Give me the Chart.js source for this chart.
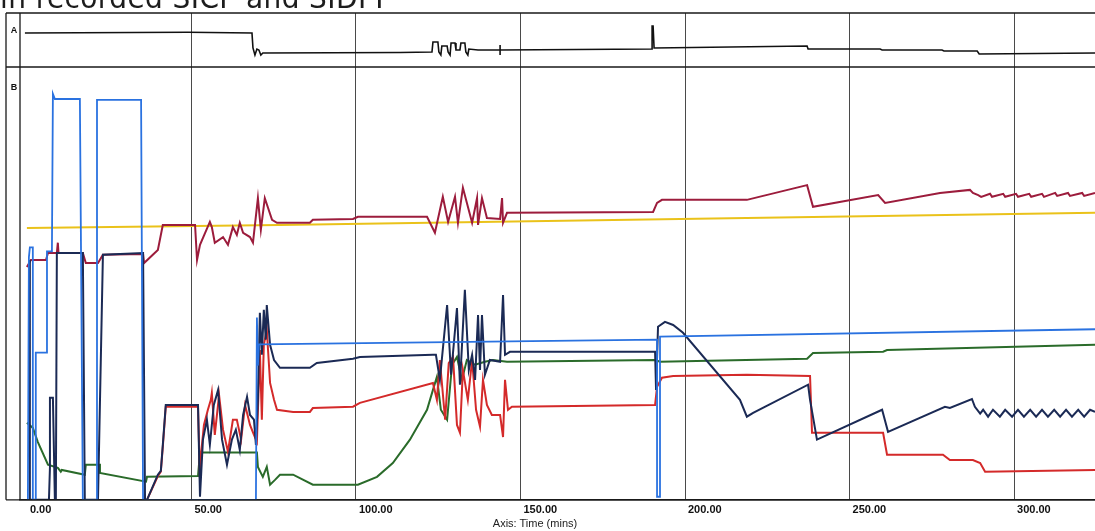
<!DOCTYPE html>
<html>
<head>
<meta charset="utf-8">
<script src="https://cdn.jsdelivr.net/npm/chart.js@4.4.1/dist/chart.umd.min.js"></script>
<style>
  html, body { margin: 0; padding: 0; background: #fff; }
  #wrap { position: relative; width: 1095px; height: 531px; overflow: hidden; }
  #caption { position: absolute; left: 0; top: -15px; font: 28px/28px "DejaVu Sans", sans-serif; letter-spacing: 0.4px; color: #1c1c1c; white-space: nowrap; }
  #axisTitle { position: absolute; left: 0; width: 1070px; top: 517px; text-align: center; font: 11px "Liberation Sans", Arial, sans-serif; color: #222; }
  canvas { position: absolute; left: 0; top: 0; }
</style>
</head>
<body>
<div id="wrap">
  <canvas id="grafico" width="1095" height="531"></canvas>
  <div id="caption">in recorded SICP and SIDPP</div>
  <div id="axisTitle">Axis: Time (mins)</div>
</div>
<script>
// eje X en minutos
const timeTicks = [0, 50, 100, 150, 200, 250, 300];

// panel A: traza negra (unidades relativas 0-100)
const traceA = [[-0.6,63],[48.9,64.3],[68.4,63],[68.7,35.2],[69.3,22.2],[69.9,33.3],[70.5,31.5],[71.1,22.2],[71.7,25.9],
  [113.4,26.9],[123.1,27.8],[123.4,46.3],[124.9,46.3],[125.2,27.8],[125.8,22.2],[126.1,38.9],[127.7,38.9],[128,27.8],
  [128.6,22.2],[128.9,44.4],[130.1,44.4],[130.4,31.5],[131.6,31.5],[131.9,44.4],[133.1,44.4],[133.4,27.8],[134,22.2],
  [134.3,33.3],[137.1,31.5],[143.8,31.5],[143.8,40.7],[143.8,22.2],[143.8,31.5],[190,33.3],[190,75.9],[190.3,75.9],
  [190.6,35.2],[237.1,38.9],[237.4,33.3],[259.3,33.3],[259.9,31.5],[278.1,31.5],[278.7,29.6],[288.8,29.6],[289.4,24.1],
  [324.6,25.9]];

// panel B (unidades relativas 0-100)
const traceYellow = [[0,62.8],[76.9,63.5],[198.5,64.9],[324.6,66.3]];

const traceMaroon = [[0,53.8],[0.9,55.0],[1.2,55.4],[5.8,55.4],[6.4,57.0],[9.1,57.0],[9.4,59.4],[9.6,57.0],[17.0,57.0],
  [17.9,54.7],[21.6,54.7],[23.1,56.6],[35.3,56.8],[35.6,54.7],[39.8,57.7],[41.3,63.5],[51.1,63.5],[51.7,55.4],[52.6,58.9],
  [55.6,64.2],[56.2,63.0],[57.1,59.4],[59.6,60.7],[61.1,58.9],[62.6,63.0],[63.8,61.2],[64.7,64.0],[65.7,61.7],[67.8,60.7],
  [68.7,59.4],[70.2,69.7],[71.1,62.4],[72.3,69.7],[74.5,64.7],[76.0,64.0],[86.0,64.0],[86.9,64.7],[99.1,64.9],[100.6,65.4],
  [121.6,65.4],[124.0,61.7],[126.4,70.0],[128.0,64.2],[130.1,70.0],[131.0,64.0],[132.5,72.1],[135.3,64.0],[136.8,69.7],
  [137.1,63.5],[138.3,69.7],[139.8,65.1],[143.8,64.9],[144.4,69.7],[144.7,64.0],[145.9,66.3],[190.3,66.5],[191.5,68.6],
  [193.0,69.3],[218.8,69.3],[237.1,72.7],[238.9,67.7],[258.7,70.4],[260.8,68.6],[277.5,70.9],[286.6,71.6],[287.5,70.9],
  [289.1,70.4],[290.0,70.0],[292.7,70.7],[293.3,70.0],[296.7,70.7],[297.3,70.0],[300.6,70.7],[301.2,70.0],[304.6,70.7],
  [305.2,70.0],[308.5,70.7],[309.1,70.0],[312.5,70.9],[313.1,70.2],[316.4,70.9],[317.0,70.2],[320.7,70.9],[321.3,70.2],
  [324.6,70.9]];

const traceBlue = [[0.3,0],[0.6,56.0],[0.9,58.3],[1.8,58.3],[1.8,0],[2.7,0],[2.7,34.0],[6.1,34.0],[6.1,57.4],[7.6,57.4],
  [7.9,93.8],[8.5,92.6],[16.1,92.6],[17.0,0],[21.0,0],[21.3,92.4],[34.7,92.4],[35.3,0],[69.6,0],[69.9,42.1],[70.2,31.0],
  [70.5,35.9],[191.5,37.0],[191.5,0.7],[192.1,0.7],[192.4,37.7],[324.6,39.4]];

const traceNavy = [[0.9,55.4],[0.9,0],[6.7,0],[7.0,7.4],[7.0,23.6],[7.9,23.6],[8.5,0],[8.8,0],[9.1,57.0],[17.0,57.0],
  [17.6,0],[21.6,0],[23.1,56.6],[35.3,57.0],[35.9,0],[36.5,0],[39.8,5.8],[40.7,6.7],[41.3,12.7],[42.2,21.9],[52.0,21.9],
  [52.6,0.7],[53.5,13.9],[54.7,18.5],[55.6,12.7],[56.8,21.9],[58.1,25.4],[59.3,13.9],[60.8,8.1],[62.3,13.9],[63.5,16.2],
  [64.7,11.5],[65.7,19.6],[66.9,23.8],[67.8,19.6],[69.0,18.5],[69.6,12.7],[70.2,23.1],[70.8,43.2],[71.4,33.5],[72.0,43.9],
  [72.6,37.0],[72.9,45.0],[73.9,35.8],[75.1,32.3],[76.9,30.5],[86.0,30.5],[88.1,31.6],[99.1,32.6],[101.2,33.0],[123.4,33.5],
  [124.3,33.5],[125.5,27.7],[127.7,45.0],[128.9,28.9],[130.7,44.3],[131.6,26.6],[133.1,48.5],[134.3,30.0],[135.3,33.5],
  [136.2,27.7],[137.1,42.7],[137.7,30.0],[138.3,42.7],[139.2,28.9],[140.7,32.3],[143.8,31.9],[144.7,47.3],[145.3,33.5],
  [146.8,34.2],[190.9,34.2],[191.2,25.4],[191.8,40.0],[193.9,41.1],[196.4,40.4],[199.4,38.6],[216.7,23.1],[218.8,19.2],
  [220.7,20.1],[237.4,26.6],[238.0,23.1],[240.1,13.9],[259.9,20.8],[261.7,15.7],[279.0,21.5],[280.5,21.2],[287.2,23.3],
  [288.1,21.5],[289.7,19.9],[290.6,20.8],[292.1,19.2],[293.6,20.8],[295.7,19.2],[297.3,20.8],[299.4,19.2],[301.2,20.8],
  [303.0,19.2],[304.9,20.8],[306.7,19.2],[308.5,20.8],[310.3,19.2],[312.2,20.8],[314.0,19.2],[315.8,20.8],[317.6,19.2],
  [319.5,20.8],[321.3,19.2],[323.1,20.8],[324.6,20.3]];

const traceRed = [[36.5,0],[39.8,5.5],[40.7,6.5],[41.3,12.2],[42.2,21.5],[52.0,21.5],[52.6,4.6],[52.9,10.4],[53.8,17.3],
  [55.0,20.8],[55.9,23.1],[56.2,24.7],[57.1,15.0],[58.4,24.2],[59.6,16.2],[61.1,11.1],[62.6,18.5],[63.8,18.5],[65.1,13.9],
  [66.3,21.9],[67.8,17.3],[69.0,15.0],[69.9,13.4],[70.8,34.6],[71.4,18.5],[72.0,35.8],[72.9,39.3],[73.9,27.0],[75.1,23.1],
  [76.0,20.8],[80.9,20.3],[86.0,20.3],[86.9,21.2],[99.1,21.5],[101.2,22.4],[123.4,27.0],[124.6,23.1],[125.5,32.3],
  [127.1,18.5],[128.2,31.6],[129.5,33.0],[130.7,17.3],[131.6,15.5],[132.5,30.0],[134.0,23.1],[135.3,32.3],[136.5,20.8],
  [137.7,16.9],[138.6,27.7],[139.8,21.9],[141.3,19.6],[143.8,19.6],[144.7,14.5],[145.3,27.7],[146.2,20.8],[147.4,21.5],
  [190.9,21.9],[191.5,26.1],[193.0,28.2],[196.4,28.6],[218.8,28.9],[238.0,28.6],[238.6,15.5],[260.2,15.5],[261.4,10.4],
  [278.4,10.4],[280.5,9.2],[287.5,9.2],[289.7,8.5],[291.2,6.5],[324.6,6.9]];

const traceGreen = [[0,17.8],[1.8,16.6],[3.3,13.4],[6.4,8.1],[9.4,7.4],[10.3,6.5],[10.6,6.9],[17.6,5.8],[17.9,8.1],
  [22.2,8.1],[22.2,6.2],[36.2,4.2],[36.5,5.3],[52.0,5.5],[52.6,10.9],[69.9,10.9],[70.2,7.6],[71.7,5.3],[72.9,7.6],
  [73.9,3.5],[75.4,4.6],[76.9,5.8],[80.9,5.8],[86.9,3.5],[100.6,3.5],[106.4,5.3],[111.2,8.5],[116.4,13.9],[121.6,20.8],
  [123.4,25.4],[124.6,28.4],[125.8,20.8],[127.7,18.5],[129.2,31.2],[130.7,33.0],[132.2,27.7],[133.7,32.3],[136.2,31.2],
  [139.2,31.9],[141.6,32.3],[145.9,31.9],[190.9,32.3],[192.4,31.9],[237.1,32.6],[238.9,33.9],[260.2,34.2],[261.4,34.6],
  [324.6,35.8]];

function serie(nombre, puntos, color, ancho, eje) {
  return {
    label: nombre,
    data: puntos.map(p => ({ x: p[0], y: p[1] })),
    borderColor: color,
    borderWidth: ancho,
    yAxisID: eje,
    pointRadius: 0,
    tension: 0,
    fill: false
  };
}

// marco de los paneles A / B con sus etiquetas
const marcoPaneles = {
  id: 'marcoPaneles',
  afterDatasetsDraw(chart) {
    const { ctx, chartArea } = chart;
    const a = chart.scales.yA, b = chart.scales.yB;
    const exterior = 6;
    ctx.save();
    ctx.strokeStyle = '#1a1a1a';
    ctx.lineWidth = 1.3;
    ctx.beginPath();
    [a.top, a.bottom, b.bottom].forEach(y => { ctx.moveTo(exterior, y); ctx.lineTo(chartArea.right, y); });
    [exterior, chartArea.left].forEach(x => { ctx.moveTo(x, a.top); ctx.lineTo(x, b.bottom); });
    ctx.stroke();
    ctx.fillStyle = '#111';
    ctx.font = 'bold 9px "Liberation Sans", Arial, sans-serif';
    ctx.textAlign = 'center';
    ctx.textBaseline = 'middle';
    const cx = (exterior + chartArea.left) / 2 + 1;
    ctx.fillText('A', cx, a.top + 18);
    ctx.fillText('B', cx, b.top + 21);
    ctx.restore();
  }
};

new Chart(document.getElementById('grafico').getContext('2d'), {
  type: 'line',
  data: {
    datasets: [
      serie('Blue', traceBlue, '#2a72e0', 1.8, 'yB'),
      serie('Navy', traceNavy, '#1b2a55', 2, 'yB'),
      serie('Red', traceRed, '#d42a2a', 2, 'yB'),
      serie('Green', traceGreen, '#2a6b2a', 2, 'yB'),
      serie('Maroon', traceMaroon, '#9c1c3c', 2, 'yB'),
      serie('Yellow', traceYellow, '#eac21a', 2, 'yB'),
      serie('A', traceA, '#111111', 1.6, 'yA')
    ]
  },
  options: {
    responsive: false,
    animation: false,
    devicePixelRatio: 1,
    layout: { padding: { left: 20, top: 13, right: 0, bottom: 10 } },
    plugins: { legend: { display: false }, tooltip: { enabled: false } },
    scales: {
      x: {
        type: 'linear',
        min: -2.1,
        max: 324.6,
        afterBuildTicks: s => { s.ticks = timeTicks.map(v => ({ value: v })); },
        grid: {
          drawTicks: false,
          color: c => (c.tick && c.tick.value === 0) ? 'rgba(0,0,0,0)' : '#4a4a4a',
          lineWidth: 1
        },
        border: { color: '#1a1a1a', width: 1.5 },
        ticks: {
          align: 'start',
          labelOffset: 3,
          padding: 4,
          maxRotation: 0,
          autoSkip: false,
          color: '#111',
          font: { family: '"Liberation Sans", Arial, sans-serif', size: 11, weight: 'bold' },
          callback: v => Number(v).toFixed(2)
        }
      },
      yA: {
        position: 'left', stack: 'paneles', stackWeight: 54, weight: 2,
        min: 0, max: 100,
        ticks: { display: false },
        grid: { display: false, drawTicks: false },
        border: { display: false }
      },
      yB: {
        position: 'left', stack: 'paneles', stackWeight: 433, weight: 1,
        min: 0, max: 100,
        ticks: { display: false },
        grid: { display: false, drawTicks: false },
        border: { display: false }
      }
    }
  },
  plugins: [marcoPaneles]
});
</script>
</body>
</html>
